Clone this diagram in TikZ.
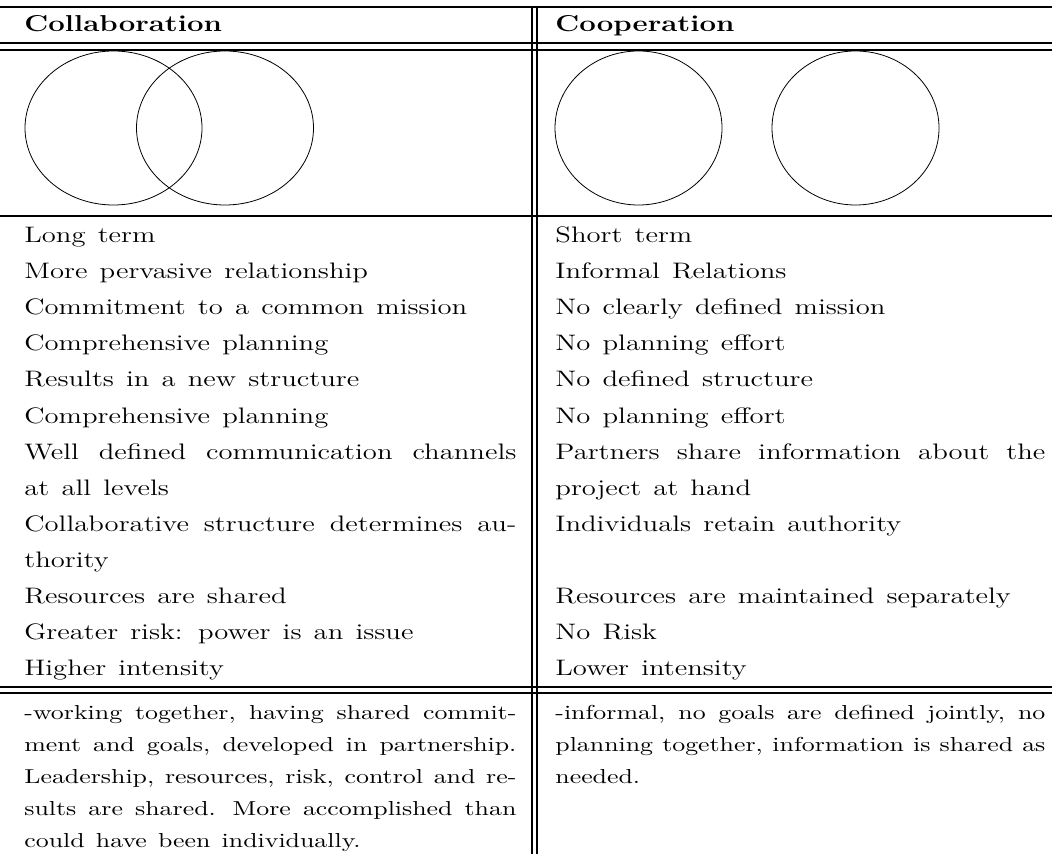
\documentclass[tikz,border=0pt]{standalone}
\usepackage{fontspec}
\setmainfont{Latin Modern Roman}[FakeStretch=1.28,WordSpace=1.3]

\begin{document}
\begin{tikzpicture}[x=0.5pt,y=-0.5pt,rule/.style={line width=0.6pt},
headcell/.style={anchor=base west,inner sep=0pt,font=\fontsize{11.5}{14}\selectfont\bfseries},
bodycell/.style={anchor=base west,inner sep=0pt,text width=246pt,align=justify,font=\fontsize{11.2}{18}\selectfont},
notecell/.style={anchor=base west,inner sep=0pt,text width=246pt,align=justify,font=\fontsize{10.1}{16}\selectfont}]
\useasboundingbox (0,0) rectangle (1052,854);
% table rules
\draw[rule] (0,7) -- (1052,7);
\draw[rule] (0,43) -- (1052,43);
\draw[rule] (0,50) -- (1052,50);
\draw[rule] (0,216) -- (1052,216);
\draw[rule] (0,687) -- (1052,687);
\draw[rule] (0,693) -- (1052,693);
\draw[rule] (532,7) -- (532,854);
\draw[rule] (537,7) -- (537,854);
% header
\node[headcell] (collab) at (24,32) {Collaboration};
\node[headcell] (coop) at (555,32) {Cooperation};
% circles
\draw[line width=0.4pt] (113.5,128) ellipse [x radius=88.5,y radius=77];
\draw[line width=0.4pt] (225,128) ellipse [x radius=88.5,y radius=77];
\draw[line width=0.4pt] (638.5,128) ellipse [x radius=83.5,y radius=77];
\draw[line width=0.4pt] (855.5,128) ellipse [x radius=83.5,y radius=77];
% rows
\foreach \k/\txt in {0/Long term,1/More pervasive relationship,2/Commitment to a common mission,
  3/Comprehensive planning,4/Results in a new structure,5/Comprehensive planning,
  6/Well defined communication channels\linebreak at all levels,
  8/Collaborative structure determines au-\linebreak thority,
  10/Resources are shared,11/Greater risk: power is an issue,12/Higher intensity}
  \node[bodycell] (l\k) at (24,243+36*\k) {\txt};
\foreach \k/\txt in {0/Short term,1/Informal Relations,2/No clearly defined mission,
  3/No planning effort,4/No defined structure,5/No planning effort,
  6/Partners share information about the\linebreak project at hand,
  8/Individuals retain authority,
  10/Resources are maintained separately,11/No Risk,12/Lower intensity}
  \node[bodycell,text width=245pt] (r\k) at (555,243+36*\k) {\txt};
% notes
\node[notecell] (lnote) at (24,719) {-working together, having shared commit-\linebreak ment and goals, developed in partnership.\linebreak Leadership, resources, risk, control and re-\linebreak sults are shared. More accomplished than\linebreak could have been individually.};
\node[notecell,text width=245pt] (rnote) at (555,719) {-informal, no goals are defined jointly, no\linebreak planning together, information is shared as\linebreak needed.};
\end{tikzpicture}
\end{document}
